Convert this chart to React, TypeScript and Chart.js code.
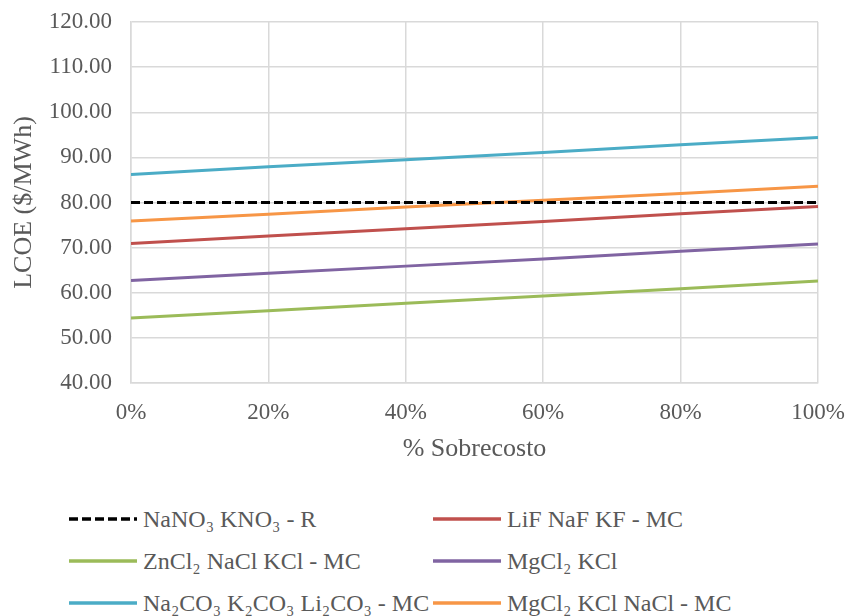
import React, { useEffect, useRef } from "react";
import { Chart, registerables } from "chart.js";

Chart.register(...registerables);

const sobrecosto = [0, 20, 40, 60, 80, 100];
const nanoKno = [80.0, 80.0, 80.0, 80.0, 80.0, 80.0];
const lifNafKf = [70.9, 72.6, 74.2, 75.8, 77.5, 79.1];
const zncl2NaclKcl = [54.4, 56.0, 57.7, 59.3, 60.9, 62.6];
const mgcl2Kcl = [62.7, 64.3, 65.9, 67.5, 69.2, 70.8];
const carbonatos = [86.2, 87.9, 89.5, 91.1, 92.8, 94.4];
const mgcl2KclNacl = [75.9, 77.4, 79.0, 80.5, 82.0, 83.6];

const seriesLabels = [
  "NaNO₃ KNO₃ - R",
  "LiF NaF KF - MC",
  "ZnCl₂ NaCl KCl - MC",
  "MgCl₂ KCl",
  "Na₂CO₃ K₂CO₃ Li₂CO₃ - MC",
  "MgCl₂ KCl NaCl - MC",
];
const seriesValues = [nanoKno, lifNafKf, zncl2NaclKcl, mgcl2Kcl, carbonatos, mgcl2KclNacl];
const seriesColors = ["#000000", "#c0504d", "#9bbb59", "#8064a2", "#4bacc6", "#f79646"];
const seriesDashed = [true, false, false, false, false, false];

const FONT = "'Liberation Serif', 'Times New Roman', serif";
const TEXT = "#595959";
const GRID = "#d9d9d9";

export default function App() {
  const ref = useRef<HTMLCanvasElement | null>(null);

  useEffect(() => {
    if (!ref.current) return;
    const chart = new Chart(ref.current, {
      type: "line",
      data: {
        datasets: seriesLabels.map((label, i) => ({
          label,
          data: sobrecosto.map((x, j) => ({ x, y: seriesValues[i][j] })),
          borderColor: seriesColors[i],
          backgroundColor: seriesColors[i],
          borderWidth: 3,
          borderDash: seriesDashed[i] ? [9, 4] : [],
          pointRadius: 0,
          tension: 0,
          fill: false,
        })),
      },
      options: {
        responsive: false,
        animation: false,
        layout: { padding: { left: 0, right: 30, top: 22, bottom: 0 } },
        plugins: { legend: { display: false }, tooltip: { enabled: false } },
        scales: {
          x: {
            type: "linear",
            min: 0,
            max: 100,
            grid: { color: GRID, lineWidth: 1.5, drawTicks: false },
            border: { color: GRID, width: 1.5 },
            ticks: {
              stepSize: 20,
              padding: 16,
              color: TEXT,
              font: { family: FONT, size: 23 },
              callback: (v: any) => v + "%",
              maxRotation: 0,
            },
            title: {
              display: true,
              text: "% Sobrecosto",
              color: TEXT,
              font: { family: FONT, size: 26 },
              padding: { top: 0, bottom: 15 },
            },
            afterFit: (s: any) => {
              s.height = 97;
              s.paddingLeft = 0;
              s.paddingRight = 0;
            },
          },
          y: {
            min: 40,
            max: 120,
            grid: { color: GRID, lineWidth: 1.5, drawTicks: false },
            border: { color: GRID, width: 1.5 },
            ticks: {
              stepSize: 10,
              padding: 19,
              color: TEXT,
              font: { family: FONT, size: 23 },
              callback: (v: any) => Number(v).toFixed(2),
            },
            title: {
              display: true,
              text: "LCOE ($/MWh)",
              color: TEXT,
              font: { family: FONT, size: 26 },
              padding: { top: 9, bottom: 0 },
            },
            afterFit: (s: any) => {
              s.width = 131;
              s.paddingTop = 0;
              s.paddingBottom = 0;
            },
          },
        },
      },
    });
    return () => chart.destroy();
  }, []);

  const legendPos = [
    { x: 69, y: 519 },
    { x: 433, y: 519 },
    { x: 69, y: 561 },
    { x: 433, y: 561 },
    { x: 69, y: 603 },
    { x: 433, y: 603 },
  ];

  return (
    <div style={{ position: "absolute", left: 0, top: 0, width: 848, height: 616, background: "#fff" }}>
      <canvas ref={ref} width={848} height={480} style={{ position: "absolute", left: 0, top: 0 }} />
      {seriesLabels.map((label, i) => (
        <div
          key={label}
          style={{
            position: "absolute",
            left: legendPos[i].x,
            top: legendPos[i].y - 15,
            height: 30,
            display: "flex",
            alignItems: "center",
            whiteSpace: "nowrap",
            fontFamily: FONT,
            fontSize: 24,
            color: TEXT,
          }}
        >
          <svg width={68} height={6} style={{ marginRight: 6 }}>
            <line
              x1={0}
              y1={3}
              x2={68}
              y2={3}
              stroke={seriesColors[i]}
              strokeWidth={3.5}
              strokeDasharray={seriesDashed[i] ? "9 4" : undefined}
            />
          </svg>
          <span>{label}</span>
        </div>
      ))}
    </div>
  );
}
